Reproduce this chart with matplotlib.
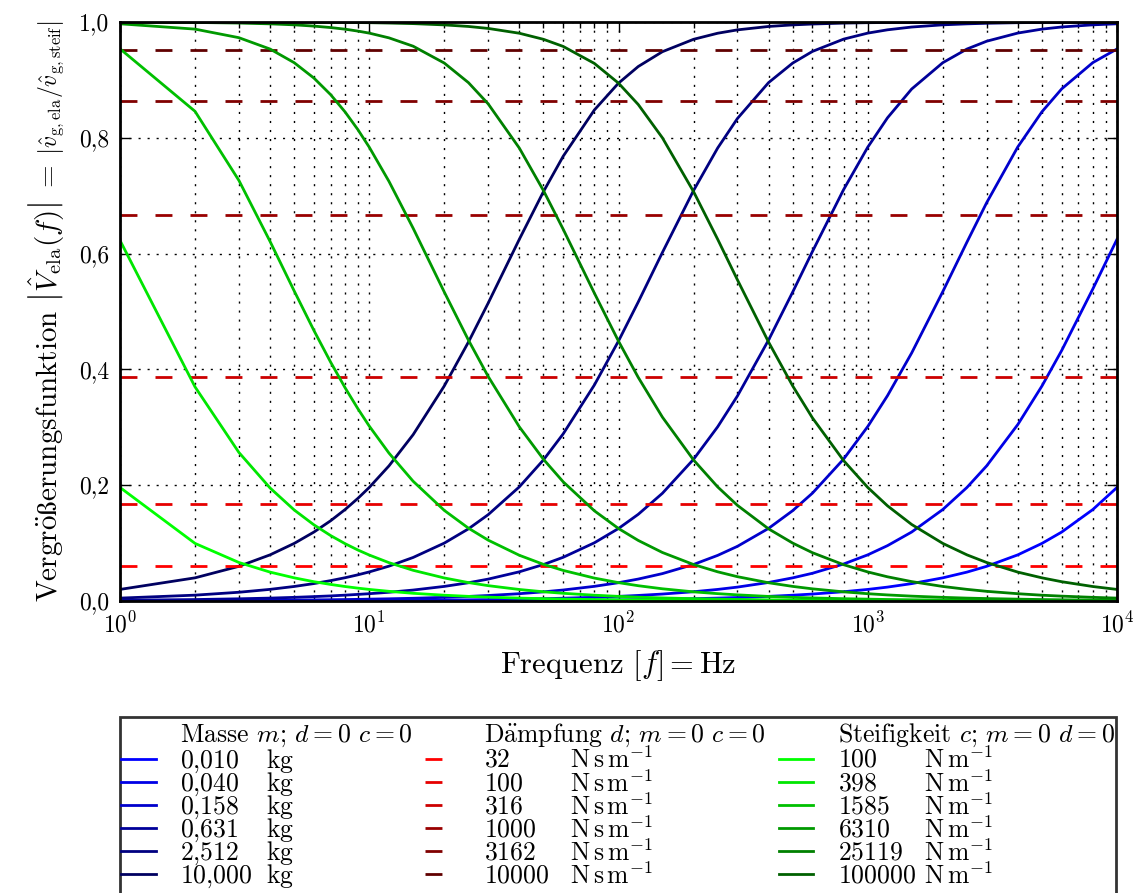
import matplotlib
matplotlib.use('Agg')
import matplotlib.pyplot as plt
from matplotlib.lines import Line2D
from matplotlib.legend_handler import HandlerLine2D

plt.rcParams['font.family'] = ['cmr10', 'DejaVu Serif']
plt.rcParams['mathtext.fontset'] = 'cm'
plt.rcParams['axes.formatter.use_mathtext'] = True
plt.rcParams['axes.unicode_minus'] = False

# Frequenzen der Stützstellen in Hz
freq = [1, 2, 3, 4, 5, 6, 7, 8, 9, 10, 12, 15, 20, 25, 30, 40, 50, 60, 80, 100,
        120, 150, 200, 250, 300, 400, 500, 600, 800, 1000, 1200, 1500, 2000, 2500,
        3000, 4000, 5000, 6000, 8000, 10000]

# Masse m in kg (d = 0, c = 0)
masse = [0.010, 0.040, 0.158, 0.631, 2.512, 10.000]
v_masse = [
    [0.0000, 0.0000, 0.0001, 0.0001, 0.0001, 0.0001, 0.0001, 0.0002, 0.0002, 0.0002,
     0.0002, 0.0003, 0.0004, 0.0005, 0.0006, 0.0008, 0.0010, 0.0012, 0.0016, 0.0020,
     0.0024, 0.0030, 0.0040, 0.0050, 0.0060, 0.0080, 0.0100, 0.0120, 0.0160, 0.0200,
     0.0240, 0.0300, 0.0400, 0.0499, 0.0599, 0.0797, 0.0995, 0.1191, 0.1580, 0.1961],
    [0.0001, 0.0002, 0.0002, 0.0003, 0.0004, 0.0005, 0.0006, 0.0006, 0.0007, 0.0008,
     0.0010, 0.0012, 0.0016, 0.0020, 0.0024, 0.0032, 0.0040, 0.0048, 0.0064, 0.0080,
     0.0096, 0.0120, 0.0160, 0.0200, 0.0240, 0.0320, 0.0400, 0.0479, 0.0639, 0.0797,
     0.0956, 0.1191, 0.1580, 0.1961, 0.2334, 0.3048, 0.3714, 0.4327, 0.5390, 0.6247],
    [0.0003, 0.0006, 0.0009, 0.0013, 0.0016, 0.0019, 0.0022, 0.0025, 0.0028, 0.0032,
     0.0038, 0.0047, 0.0063, 0.0079, 0.0095, 0.0126, 0.0158, 0.0190, 0.0253, 0.0316,
     0.0379, 0.0473, 0.0631, 0.0788, 0.0944, 0.1254, 0.1561, 0.1863, 0.2451, 0.3013,
     0.3546, 0.4283, 0.5343, 0.6198, 0.6880, 0.7843, 0.8450, 0.8845, 0.9299, 0.9534],
    [0.0013, 0.0025, 0.0038, 0.0050, 0.0063, 0.0076, 0.0088, 0.0101, 0.0114, 0.0126,
     0.0151, 0.0189, 0.0252, 0.0315, 0.0378, 0.0504, 0.0630, 0.0755, 0.1005, 0.1252,
     0.1497, 0.1860, 0.2447, 0.3009, 0.3541, 0.4507, 0.5337, 0.6037, 0.7105, 0.7838,
     0.8345, 0.8842, 0.9297, 0.9533, 0.9668, 0.9809, 0.9877, 0.9914, 0.9951, 0.9969],
    [0.0050, 0.0101, 0.0151, 0.0201, 0.0251, 0.0301, 0.0352, 0.0402, 0.0452, 0.0502,
     0.0602, 0.0752, 0.1000, 0.1246, 0.1491, 0.1971, 0.2437, 0.2887, 0.3730, 0.4490,
     0.5164, 0.6019, 0.7089, 0.7824, 0.8333, 0.8953, 0.9291, 0.9492, 0.9704, 0.9808,
     0.9865, 0.9913, 0.9951, 0.9968, 0.9978, 0.9988, 0.9992, 0.9995, 0.9997, 0.9998],
    [0.0200, 0.0400, 0.0599, 0.0797, 0.0995, 0.1191, 0.1386, 0.1580, 0.1772, 0.1961,
     0.2334, 0.2873, 0.3714, 0.4472, 0.5145, 0.6247, 0.7071, 0.7682, 0.8480, 0.8944,
     0.9231, 0.9487, 0.9701, 0.9806, 0.9864, 0.9923, 0.9950, 0.9965, 0.9981, 0.9988,
     0.9991, 0.9994, 0.9997, 0.9998, 0.9999, 0.9999, 1.0000, 1.0000, 1.0000, 1.0000],
]

# Dämpfung d in N s/m (m = 0, c = 0) -> frequenzunabhängig
daempfung = [32, 100, 316, 1000, 3162, 10000]
v_daempfung = [0.060, 0.167, 0.387, 0.667, 0.863, 0.952]

# Steifigkeit c in N/m (m = 0, d = 0)
steifigkeit = [100, 398, 1585, 6310, 25119, 100000]
v_steif = [
    [0.1961, 0.0995, 0.0665, 0.0499, 0.0400, 0.0333, 0.0286, 0.0250, 0.0222, 0.0200,
     0.0167, 0.0133, 0.0100, 0.0080, 0.0067, 0.0050, 0.0040, 0.0033, 0.0025, 0.0020,
     0.0017, 0.0013, 0.0010, 0.0008, 0.0007, 0.0005, 0.0004, 0.0003, 0.0003, 0.0002,
     0.0002, 0.0001, 0.0001, 0.0001, 0.0001, 0.0001, 0.0000, 0.0000, 0.0000, 0.0000],
    [0.6228, 0.3698, 0.2565, 0.1952, 0.1572, 0.1315, 0.1130, 0.0990, 0.0881, 0.0794,
     0.0662, 0.0530, 0.0398, 0.0318, 0.0265, 0.0199, 0.0159, 0.0133, 0.0100, 0.0080,
     0.0066, 0.0053, 0.0040, 0.0032, 0.0027, 0.0020, 0.0016, 0.0013, 0.0010, 0.0008,
     0.0007, 0.0005, 0.0004, 0.0003, 0.0003, 0.0002, 0.0002, 0.0001, 0.0001, 0.0001],
    [0.9537, 0.8457, 0.7263, 0.6210, 0.5354, 0.4671, 0.4125, 0.3683, 0.3322, 0.3021,
     0.2554, 0.2068, 0.1565, 0.1258, 0.1051, 0.0790, 0.0633, 0.0528, 0.0396, 0.0317,
     0.0264, 0.0211, 0.0158, 0.0127, 0.0106, 0.0079, 0.0063, 0.0053, 0.0040, 0.0032,
     0.0026, 0.0021, 0.0016, 0.0013, 0.0011, 0.0008, 0.0006, 0.0005, 0.0004, 0.0003],
    [0.9969, 0.9877, 0.9729, 0.9533, 0.9297, 0.9031, 0.8745, 0.8446, 0.8142, 0.7838,
     0.7247, 0.6438, 0.5336, 0.4506, 0.3878, 0.3008, 0.2447, 0.2058, 0.1558, 0.1252,
     0.1046, 0.0838, 0.0630, 0.0504, 0.0420, 0.0315, 0.0252, 0.0210, 0.0158, 0.0126,
     0.0105, 0.0084, 0.0063, 0.0050, 0.0042, 0.0032, 0.0025, 0.0021, 0.0016, 0.0013],
    [0.9998, 0.9992, 0.9982, 0.9968, 0.9951, 0.9929, 0.9904, 0.9876, 0.9843, 0.9808,
     0.9726, 0.9582, 0.9291, 0.8953, 0.8586, 0.7823, 0.7088, 0.6420, 0.5318, 0.4488,
     0.3862, 0.3176, 0.2436, 0.1970, 0.1652, 0.1246, 0.1000, 0.0834, 0.0627, 0.0502,
     0.0418, 0.0335, 0.0251, 0.0201, 0.0167, 0.0126, 0.0100, 0.0084, 0.0063, 0.0050],
    [1.0000, 1.0000, 0.9999, 0.9998, 0.9997, 0.9996, 0.9994, 0.9992, 0.9990, 0.9988,
     0.9982, 0.9972, 0.9950, 0.9923, 0.9889, 0.9806, 0.9701, 0.9578, 0.9285, 0.8944,
     0.8575, 0.8000, 0.7071, 0.6247, 0.5547, 0.4472, 0.3714, 0.3162, 0.2425, 0.1961,
     0.1644, 0.1322, 0.0995, 0.0797, 0.0665, 0.0499, 0.0400, 0.0333, 0.0250, 0.0200],
]

yticks = [0.0, 0.2, 0.4, 0.6, 0.8, 1.0]
ytick_labels = ['0,0', '0,2', '0,4', '0,6', '0,8', '1,0']

farben_m = ['#0000ff', '#0000e6', '#0000cc', '#000099', '#000080', '#000060']
farben_d = ['#ff0000', '#e60000', '#cc0000', '#990000', '#800000', '#600000']
farben_c = ['#00ff00', '#00e600', '#00c000', '#009900', '#008000', '#006000']


def feld(zahl, breite=3.35):
    # Zahl in ein Feld fester Breite setzen (cmr10: Ziffer 0.5 em, Komma 0.278 em)
    w = sum(0.278 if ch == ',' else 0.5 for ch in zahl)
    return zahl + r'$\hspace{%.3f}$' % ((breite - w) / 0.878)


class HandlerMitte(HandlerLine2D):
    # Legendenlinie auf feste Höhe über der Grundlinie, unabhängig von handleheight
    def create_artists(self, legend, orig_handle, xdescent, ydescent,
                       width, height, fontsize, trans):
        arts = super().create_artists(legend, orig_handle, xdescent, ydescent,
                                      width, height, fontsize, trans)
        for a in arts:
            a.set_ydata([0.36 * fontsize] * len(a.get_xdata()))
        return arts


fig = plt.figure(figsize=(11.38, 8.93), dpi=100)
ax = fig.add_axes([120 / 1138, 1 - 601 / 893, 997 / 1138, 579 / 893])

lw = 2.0
handles, labels = [], []

handles.append(Line2D([], [], color='none'))
labels.append(r'Masse $m$; $d=0$ $c=0$')
for m, v, col in zip(masse, v_masse, farben_m):
    l, = ax.plot(freq, v, '-', color=col, linewidth=lw)
    handles.append(l)
    labels.append(feld(('%.3f' % m).replace('.', ',')) + 'kg')

handles.append(Line2D([], [], color='none'))
labels.append(r'D$\ddot{\mathrm{a}}$mpfung $d$; $m=0$ $c=0$')
for d, v, col in zip(daempfung, v_daempfung, farben_d):
    l = ax.axhline(v, color=col, linewidth=lw, linestyle=(0, (6.1, 6.5)))
    handles.append(l)
    labels.append(feld(str(d)) + r'$\mathrm{N\,s\,m^{-1}}$')

handles.append(Line2D([], [], color='none'))
labels.append(r'Steifigkeit $c$; $m=0$ $d=0$')
for c, v, col in zip(steifigkeit, v_steif, farben_c):
    l, = ax.plot(freq, v, '-', color=col, linewidth=lw)
    handles.append(l)
    labels.append(feld(str(c)) + r'$\mathrm{N\,m^{-1}}$')

ax.set_xscale('log')
ax.set_xlim(1, 1e4)
ax.set_ylim(0, 1)
ax.set_yticks(yticks, labels=ytick_labels)
ax.grid(True, which='both', color='k', linestyle=(0, (1.5, 5)), linewidth=1)
ax.tick_params(which='both', direction='in', top=True, right=True, labelsize=17, width=1)
ax.tick_params(which='major', length=7, pad=8)
ax.tick_params(which='minor', length=4)
for s in ax.spines.values():
    s.set_linewidth(2)

ax.set_xlabel(r'Frequenz $[f] = \mathrm{Hz}$', fontsize=22, labelpad=8)

# y-Beschriftung in zwei Teilen, rechter Bruch etwas kleiner
fig.text(57 / 1138, 1 - 602 / 893,
         r'Vergr$\mathrm{\ddot{o}\ss}$erungsfunktion '
         r'$\left|\hat{V}_{\mathrm{ela}}(f)\right| \;=$',
         fontsize=21, rotation=90, rotation_mode='anchor', ha='left', va='baseline')
fig.text(57 / 1138, 1 - 20 / 893,
         r'$\left|\hat{v}_{\mathrm{g,ela}}/\hat{v}_{\mathrm{g,steif}}\right|$',
         fontsize=17, rotation=90, rotation_mode='anchor', ha='right', va='baseline')

# handleheight groß, damit alle Zeilen gleich hoch sind
leg = fig.legend(handles, labels, ncol=3, loc='upper left',
                 bbox_to_anchor=(120 / 1138, 1 - 717 / 893, 996 / 1138, 0),
                 mode='expand', borderaxespad=0, fontsize=18.5,
                 handlelength=1.36, handleheight=1.85, handletextpad=0.95,
                 labelspacing=-0.55, borderpad=0.04, columnspacing=0.3,
                 fancybox=False, handler_map={Line2D: HandlerMitte()})
leg.get_frame().set_edgecolor('black')
leg.get_frame().set_linewidth(2)
# Überschriften etwas nach oben, damit die Exponenten darunter Platz haben
for i in (0, 7, 14):
    leg.get_texts()[i].set_y(3)

fig.savefig('out.png', dpi=100)
